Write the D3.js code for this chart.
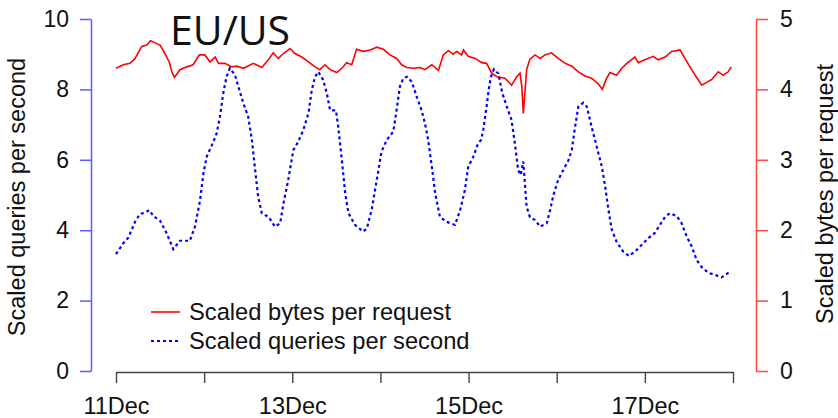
<!DOCTYPE html>
<html>
<head>
<meta charset="utf-8">
<script src="https://cdn.jsdelivr.net/npm/d3@7.9.0/dist/d3.min.js"></script>
<style>
  body { margin: 0; background: #fff; }
  svg text { font-family: "Liberation Sans", Arial, sans-serif; fill: #111; }
</style>
</head>
<body>
<svg id="chart" width="838" height="418"></svg>
<script>
// hours since 11 Dec 00:00
const queryHours = [0,2,3.3,5.2,6.5,7.9,9.1,10.2,12,13.8,15.6,17.4,20.1,21.5,22.9,23.8,24.7,26.5,27.4,28.3,29.2,30.1,31,32.4,33.3,34.7,36,37,37.8,38.7,39.7,41.5,43.3,44.7,45.6,46.9,48.3,49.6,51,52.4,53.3,54.2,55.1,56.4,57.4,58.3,59.9,60.5,61.5,62.4,63.3,65.1,67.3,68.3,69.6,71,72.3,73.7,75.5,76.4,77.3,78.2,79.2,80.5,81.9,83.2,84.1,85,86,86.9,88.2,90,92.3,93.7,95,95.9,97.3,98.6,99.4,100,100.9,101.6,102.1,102.9,104.1,105.2,106.4,107.7,108.6,109.5,110.2,110.9,111.4,111.8,112.7,114.1,115.5,117.3,118.2,119.1,120.4,121.8,123.2,124.1,125,125.9,127.2,128.2,129.5,130.9,132.3,133.2,134.1,135,136.3,138.1,139.7,141.3,143.1,144.9,146.8,148.1,149.5,150.8,152.7,154,155.4,156.8,158.1,159.5,161.3,163.1,164.9,166.3,167.5];
const queries = [3.32,3.63,3.78,4.24,4.46,4.5,4.57,4.4,4.27,3.91,3.46,3.7,3.7,4.1,4.86,5.62,6.09,6.51,6.75,7.22,7.89,8.36,8.6,8.41,8.08,7.6,7.22,6.56,5.8,4.95,4.48,4.38,4.1,4.2,4.76,5.43,6.28,6.51,6.85,7.32,7.98,8.36,8.5,8.27,7.89,7.41,7.4,6.94,5.99,5.05,4.48,4.15,3.96,4.05,4.57,5.43,6.23,6.56,6.8,7.41,8.08,8.31,8.36,8.22,7.79,7.41,7.05,6.56,5.8,5.05,4.38,4.24,4.15,4.57,5.14,5.8,6.09,6.47,6.56,6.85,7.51,8.08,8.36,8.57,8.45,7.89,7.51,7.13,6.47,5.71,5.57,5.95,5.24,4.67,4.37,4.29,4.1,4.2,4.57,5,5.43,5.71,5.99,6.28,6.94,7.51,7.62,7.51,6.94,6.37,5.8,5.24,4.57,4.01,3.67,3.39,3.27,3.39,3.58,3.77,3.93,4.15,4.38,4.48,4.4,4.2,3.82,3.53,3.15,2.95,2.79,2.73,2.66,2.76,2.84];

const bytesHours = [0,2,3.8,5.2,7,8.4,9.4,11.1,12,13.3,14.5,15.2,15.9,17.4,19.3,21,22.7,24.2,25.6,27,27.9,29.7,31.5,32.9,34.7,37.4,39.7,41.5,42.8,44.2,45.6,47.4,48.7,50.6,52.4,54.2,55.5,56.9,58.3,60.1,61.5,62.8,64.2,65.5,67.3,69.2,71,72.8,74.6,76.4,77.8,79.2,81,82.8,84.1,86,87.8,89.1,90.5,91.8,92.8,94.1,94.6,95.9,97.8,99.6,100.9,102.3,103.7,105.9,107.7,109.1,110,110.5,110.9,111.4,111.8,112.7,114.1,115.5,116.8,118.6,120.4,122.3,124.1,125.9,127.7,129.5,131.3,132.4,133.6,134.5,136.3,137.7,139.1,141.3,142.2,144,146.3,147.6,149.5,151.3,153.6,154.9,156.3,157.7,159.5,160.8,162.2,164,165.3,166.7,167.5];
const bytes = [4.3,4.35,4.37,4.44,4.61,4.63,4.69,4.65,4.63,4.51,4.39,4.25,4.17,4.28,4.32,4.35,4.49,4.49,4.39,4.46,4.37,4.37,4.32,4.33,4.3,4.37,4.31,4.42,4.52,4.44,4.51,4.58,4.51,4.46,4.39,4.32,4.28,4.35,4.28,4.24,4.3,4.38,4.35,4.57,4.54,4.56,4.6,4.57,4.49,4.44,4.35,4.31,4.3,4.31,4.28,4.35,4.27,4.49,4.55,4.5,4.54,4.49,4.56,4.47,4.44,4.38,4.37,4.23,4.18,4.16,4.06,4.18,4.23,4.04,3.66,3.99,4.28,4.43,4.49,4.44,4.49,4.52,4.44,4.37,4.33,4.25,4.19,4.16,4.08,4,4.16,4.24,4.2,4.3,4.37,4.46,4.38,4.42,4.47,4.42,4.46,4.54,4.56,4.44,4.32,4.2,4.06,4.1,4.14,4.25,4.2,4.25,4.32];

const dayTicks = [0,24,48,72,96,120,144,168];
const dayLabels = ["11Dec","","13Dec","","15Dec","","17Dec",""];
const leftTicks = [0,2,4,6,8,10];
const rightTicks = [0,1,2,3,4,5];

const svg = d3.select("#chart");

const x = d3.scaleLinear().domain([0, 168]).range([116, 733]);
const yLeft = d3.scaleLinear().domain([0, 10]).range([371, 19]);
const yRight = d3.scaleLinear().domain([0, 5]).range([371, 19]);

// bottom axis
const xAxis = svg.append("g")
  .attr("transform", "translate(0,372)")
  .call(d3.axisBottom(x).tickValues(dayTicks).tickFormat((d, i) => dayLabels[i])
    .tickSize(11).tickSizeOuter(0).tickPadding(14));
xAxis.selectAll("path, line").attr("stroke", "#444").attr("stroke-width", 1.4);
xAxis.selectAll("text").attr("font-size", 23.5).attr("fill", "#111");

// left axis
const la = svg.append("g")
  .attr("transform", "translate(91,0)")
  .call(d3.axisLeft(yLeft).tickValues(leftTicks).tickFormat(d3.format("d"))
    .tickSize(11).tickSizeOuter(0).tickPadding(11));
la.selectAll("path, line").attr("stroke", "#5a5aff").attr("stroke-width", 1.5);
la.selectAll("text").attr("font-size", 23).attr("fill", "#111");

// right axis
const ra = svg.append("g")
  .attr("transform", "translate(756,0)")
  .call(d3.axisRight(yRight).tickValues(rightTicks).tickFormat(d3.format("d"))
    .tickSize(12).tickSizeOuter(0).tickPadding(12));
ra.selectAll("path, line").attr("stroke", "#ff4848").attr("stroke-width", 1.5);
ra.selectAll("text").attr("font-size", 23).attr("fill", "#111");
svg.selectAll(".domain").attr("fill", "none");

// axis titles
svg.append("text")
  .attr("transform", "translate(25,197) rotate(-90)")
  .attr("text-anchor", "middle").attr("font-size", 23.5)
  .text("Scaled queries per second");
svg.append("text")
  .attr("transform", "translate(833,194) rotate(-90)")
  .attr("text-anchor", "middle").attr("font-size", 23.5)
  .text("Scaled bytes per request");

// lines
const qLine = d3.line().x((d, i) => x(queryHours[i])).y(d => yLeft(d));
const bLine = d3.line().x((d, i) => x(bytesHours[i])).y(d => yRight(d));

svg.append("path")
  .datum(bytes)
  .attr("d", bLine)
  .attr("fill", "none")
  .attr("stroke", "#ff0000")
  .attr("stroke-width", 1.6);

svg.append("path")
  .datum(queries)
  .attr("d", qLine)
  .attr("fill", "none")
  .attr("stroke", "#0000ff")
  .attr("stroke-width", 2.2)
  .attr("stroke-dasharray", "3,3");

// title
svg.append("text")
  .attr("x", 170).attr("y", 45)
  .style("font-family", "'Open Sans', sans-serif")
  .attr("font-size", 41)
  .text("EU/US");

// legend
const legend = svg.append("g");
legend.append("line").attr("x1", 151).attr("x2", 180).attr("y1", 312).attr("y2", 312)
  .attr("stroke", "#ff0000").attr("stroke-width", 1.6);
legend.append("line").attr("x1", 151).attr("x2", 180).attr("y1", 341).attr("y2", 341)
  .attr("stroke", "#0000ff").attr("stroke-width", 2).attr("stroke-dasharray", "3,3");
legend.append("text").attr("x", 189).attr("y", 312).attr("dy", "0.35em")
  .attr("font-size", 23.7).text("Scaled bytes per request");
legend.append("text").attr("x", 189).attr("y", 341).attr("dy", "0.35em")
  .attr("font-size", 23.7).text("Scaled queries per second");
</script>
</body>
</html>
